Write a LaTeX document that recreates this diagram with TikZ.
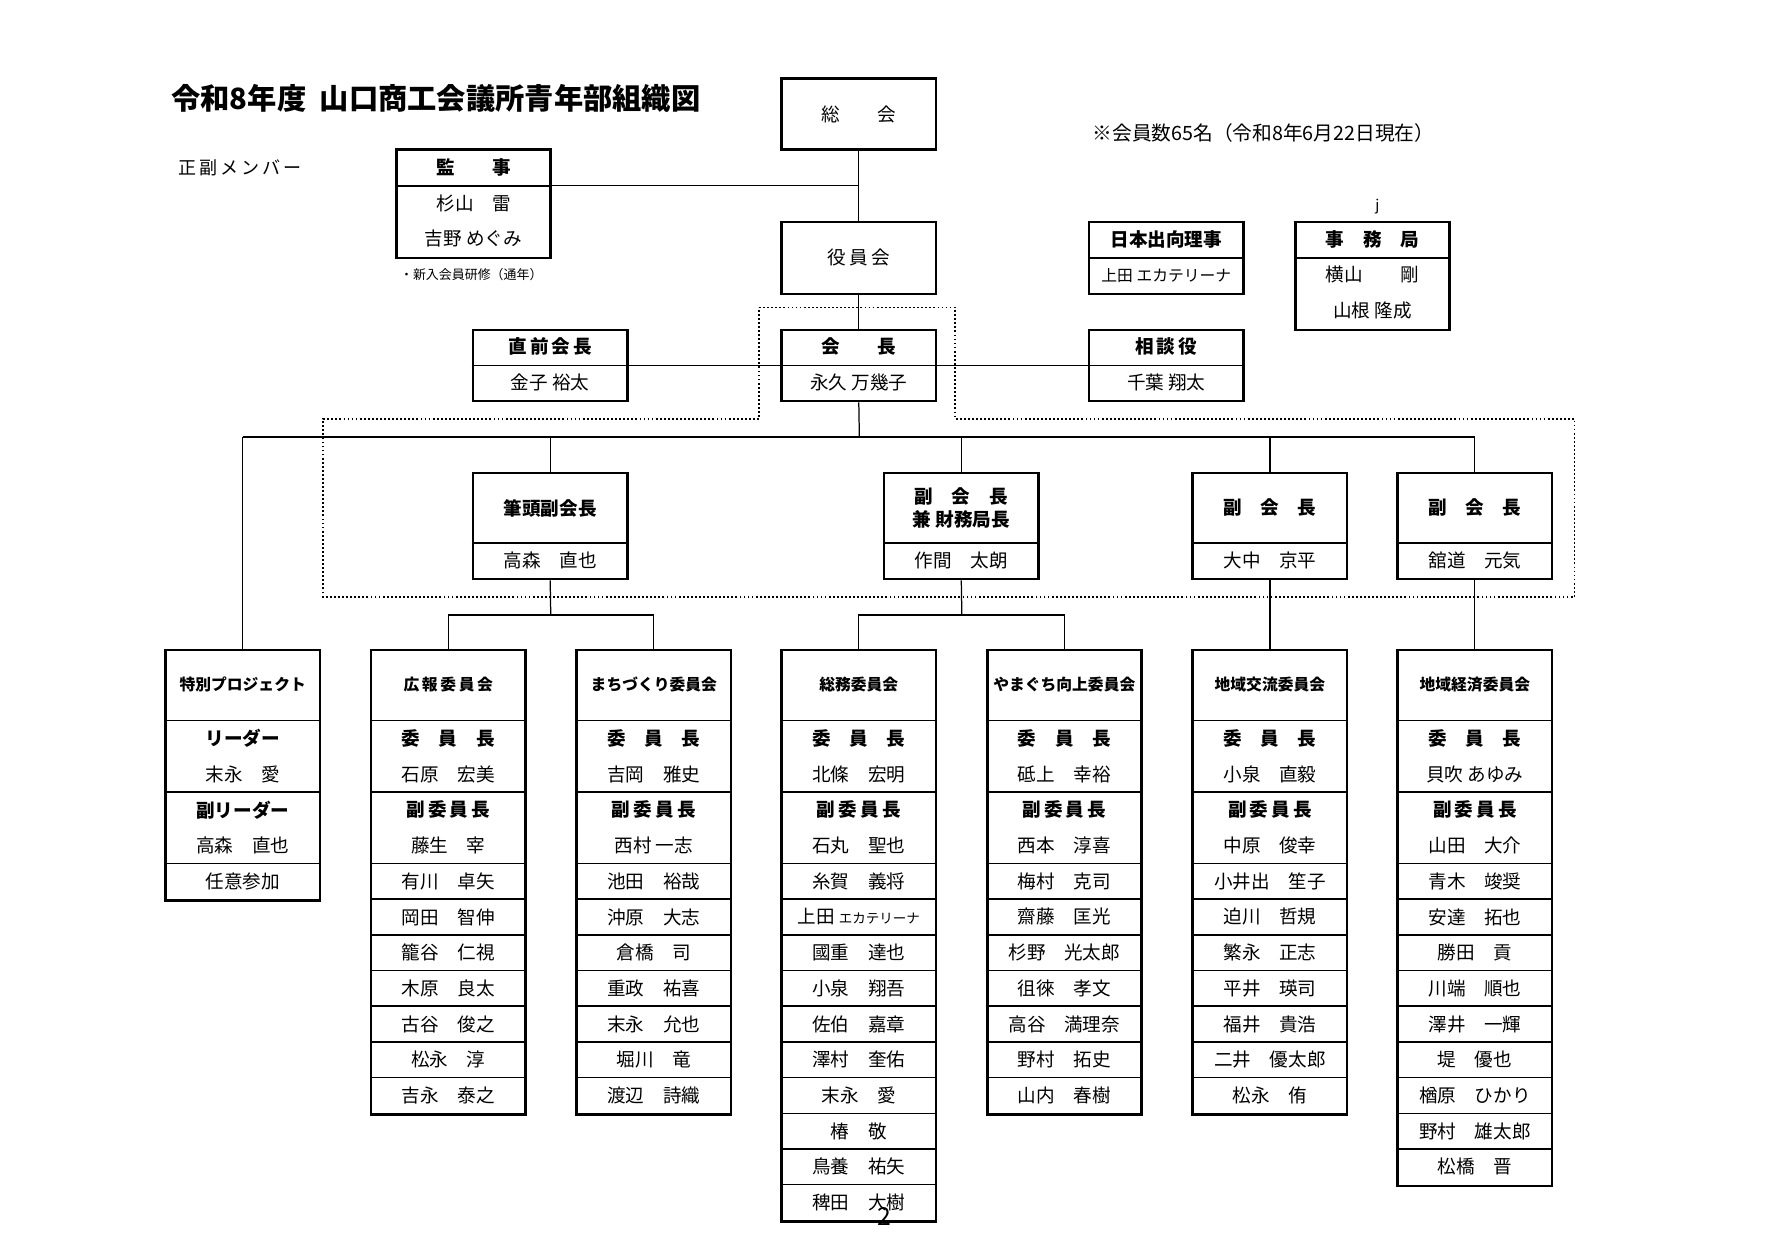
\documentclass[tikz,border=0pt]{standalone}
\usepackage{fontspec}
\setmainfont{Noto Sans CJK JP}
\begin{document}
\begin{tikzpicture}[x=1pt,y=-1pt,
 box/.style={draw,line width=2.4pt,minimum width=137pt,inner sep=0pt},
 div/.style={line width=1.3pt},
 ln/.style={line width=1.1pt},
 txt/.style={font=\fontsize{16.5}{18}\selectfont,inner sep=0pt},
 hd/.style={font=\fontsize{16.5}{18}\selectfont\bfseries,inner sep=0pt},
 ch/.style={font=\fontsize{14}{15}\selectfont\bfseries,inner sep=0pt}]
\useasboundingbox (0,0) rectangle (1568,1104.5);
\newcommand\hb[1]{\textbf{#1}}
\newcommand\committee[5]{%
 \node[box,minimum height={64+#4*31.7}] (#1) at (#2,{577+(64+#4*31.7)/2}) {};
 \draw[div] ([yshift=-64pt]#1.north west) -- ([yshift=-64pt]#1.north east);
 \node[ch] at ([yshift=-32pt]#1.north) {#3};
 \foreach \t [count=\i] in {#5} {
  \node[txt] at ([yshift={-64-(\i-0.5)*31.7}]#1.north) {\t};
  \ifnum\i=2 \draw[div] ([yshift={-64-\i*31.7}]#1.north west) -- ([yshift={-64-\i*31.7}]#1.north east);\fi
  \ifnum\i>3 \ifnum\i<#4 \draw[div] ([yshift={-64-\i*31.7}]#1.north west) -- ([yshift={-64-\i*31.7}]#1.north east);\fi\fi
 }}
% title etc
\node[font=\fontsize{26}{28}\selectfont\bfseries,anchor=west,inner sep=0pt] (title) at (152,87) {令和8年度\ \ 山口商工会議所青年部組織図};
\node[font=\fontsize{17.5}{19}\selectfont,anchor=west,inner sep=0pt] (note) at (970,118) {※会員数65名（令和8年6月22日現在）};
\node[font=\fontsize{16}{18}\selectfont,anchor=west,inner sep=0pt] (seifuku) at (158,149) {正\,副\,メ\,ン\,バ\,ー};
\node[font=\fontsize{11.5}{13}\selectfont,anchor=west,inner sep=0pt] (kenshu) at (355,244) {・新入会員研修（通年）};
\node[font=\fontsize{13}{15}\selectfont,inner sep=0pt] (jj) at (1223,183) {j};
% top boxes
\node[box,minimum height=63pt] (sokai) at (762.5,101.5) {};
\node[txt] at (sokai) {総　　会};
\node[box,minimum height=96pt] (kanji) at (420.5,181) {};
\draw[div] ([yshift=16pt]kanji.west) -- ([yshift=16pt]kanji.east);
\node[hd] at (420.5,149) {監　　事};
\node[txt] at (420.5,181) {杉山　雷};
\node[txt] at (420.5,212) {吉野 めぐみ};
\node[box,minimum height=64pt] (yakuin) at (762.5,229) {};
\node[txt] at (yakuin) {役\,員\,会};
\node[box,minimum height=64pt] (shukko) at (1035.5,229) {};
\draw[div] (shukko.west) -- (shukko.east);
\node[hd] at (1035.5,213) {日本出向理事};
\node[txt,font=\fontsize{14}{16}\selectfont] at (1035.5,245) {上田 エカテリーナ};
\node[box,minimum height=96pt] (jimu) at (1218.5,245) {};
\draw[div] ([yshift=16pt]jimu.west) -- ([yshift=16pt]jimu.east);
\node[hd] at (1218.5,213) {事　務　局};
\node[txt] at (1218.5,244) {横山　　剛};
\node[txt] at (1218.5,276) {山根\ 隆成};
\foreach \n/\x/\h/\m in {zenkai/488.5/直\,前\,会\,長/金子\ 裕太, kaicho/762.5/会　　長/永久 万幾子, sodan/1035.5/相\,談\,役/千葉\ 翔太}{
 \node[box,minimum height=63pt] (\n) at (\x,324.5) {};
 \draw[div] (\n.west) -- (\n.east);
 \node[hd] at (\x,308) {\h};
 \node[txt] at (\x,340) {\m};}
\draw[line width=1.6pt,dotted] (674,273) -- (848,273) -- (848,372) -- (1398,372) -- (1398,530) -- (287,530) -- (287,372) -- (674,372) -- cycle;
% VPs
\foreach \n/\x/\h/\m in {vp1/488.5/筆頭副会長/高森　直也, vp2/853.5/{副　会　長\\兼 財務局長}/作間　太朗, vp3/1127.5/副　会　長/大中　京平, vp4/1309.5/副　会　長/舘道　元気}{
 \node[box,minimum height=94pt] (\n) at (\x,467) {};
 \draw[div] ([yshift=-15pt]\n.west) -- ([yshift=-15pt]\n.east);
 \node[hd,align=center,font=\fontsize{16.5}{20}\selectfont\bfseries] at (\x,451) {\h};
 \node[txt] at (\x,498) {\m};}
% committees
\committee{sp}{215.5}{特別プロジェクト}{5}{\hb{リーダー},末永　愛,\hb{副リーダー},高森　直也,任意参加}
\committee{koho}{398}{広\,報\,委\,員\,会}{11}{\hb{委　員　長},石原　宏美,\hb{副\,委\,員\,長},藤生　宰,有川　卓矢,岡田　智伸,籠谷　仁視,木原　良太,古谷　俊之,松永　淳,吉永　泰之}
\committee{machi}{580.5}{まちづくり委員会}{11}{\hb{委　員　長},吉岡　雅史,\hb{副\,委\,員\,長},西村\ 一志,池田　裕哉,沖原　大志,倉橋　司,重政　祐喜,末永　允也,堀川　竜,渡辺　詩織}
\committee{somu}{762.5}{総務委員会}{14}{\hb{委　員　長},北條　宏明,\hb{副\,委\,員\,長},石丸　聖也,糸賀　義将,上田 {\fontsize{12}{14}\selectfont エカテリーナ},國重　達也,小泉　翔吾,佐伯　嘉章,澤村　奎佑,末永　愛,椿　敬,鳥養　祐矢,稗田　大樹}
\committee{yama}{945}{やまぐち向上委員会}{11}{\hb{委　員　長},砥上　幸裕,\hb{副\,委\,員\,長},西本　淳喜,梅村　克司,齋藤　匡光,杉野　光太郎,徂徠　孝文,高谷　満理奈,野村　拓史,山内　春樹}
\committee{koryu}{1127.5}{地域交流委員会}{11}{\hb{委　員　長},小泉　直毅,\hb{副\,委\,員\,長},中原　俊幸,小井出　笙子,迫川　哲規,繁永　正志,平井　瑛司,福井　貴浩,二井　優太郎,松永　侑}
\committee{keizai}{1309.5}{地域経済委員会}{13}{\hb{委　員　長},貝吹 あゆみ,\hb{副\,委\,員\,長},山田　大介,青木　竣奨,安達　拓也,勝田　貢,川端　順也,澤井　一輝,堤　優也,楢原　ひかり,野村　雄太郎,松橋　晋}
\node[font=\fontsize{22}{24}\selectfont,inner sep=0pt] (pg) at (785,1080) {2};
% connectors
\draw[ln] (sokai.south) -- (yakuin.north);
\draw[ln] ([yshift=16pt]kanji.east) -- ([yshift=16pt]kanji.east -| sokai.south);
\draw[ln] (yakuin.south) -- (kaicho.north);
\draw[ln] (zenkai.east) -- (sodan.west);
\coordinate (bar) at (763,388);
\draw[ln] (kaicho.south) -- (bar);
\draw[ln] (sp.north |- bar) -- (vp4.north |- bar);
\draw[ln] (sp.north |- bar) -- (sp.north);
\foreach \v in {vp1,vp2,vp3,vp4} \draw[ln] (\v.north |- bar) -- (\v.north);
\coordinate (b1) at (489,546);
\coordinate (b2) at (854,546);
\draw[ln] (vp1.south) -- (b1); \draw[ln] (koho.north) -- (koho.north |- b1) -- (machi.north |- b1) -- (machi.north);
\draw[ln] (vp2.south) -- (b2); \draw[ln] (somu.north) -- (somu.north |- b2) -- (yama.north |- b2) -- (yama.north);
\draw[ln] (vp3.south) -- (koryu.north);
\draw[ln] (vp4.south) -- (keizai.north);
\end{tikzpicture}
\end{document}
